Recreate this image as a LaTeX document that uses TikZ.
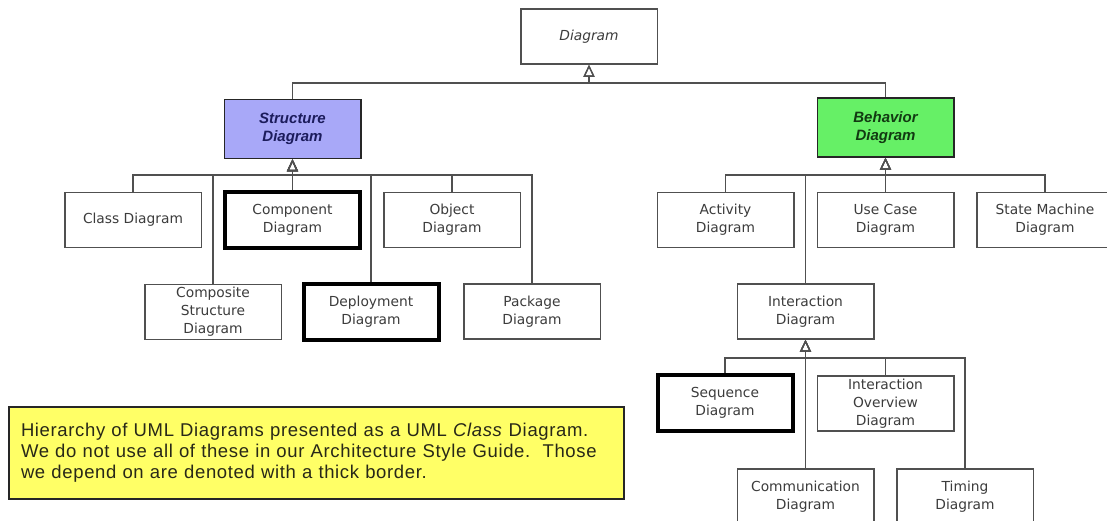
\documentclass[tikz,border=0pt]{standalone}
\usepackage{fontspec}
\setmainfont{DejaVu Sans}
\newfontfamily\notefont{Liberation Sans}
\newfontfamily\notewidefont[LetterSpace=3.5]{Liberation Sans}
\usetikzlibrary{arrows.meta}

\definecolor{linegray}{RGB}{80,80,80}
\definecolor{textgray}{RGB}{60,60,60}
\definecolor{structfill}{RGB}{168,168,248}
\definecolor{behavfill}{RGB}{102,240,102}
\definecolor{notefill}{RGB}{255,255,102}
\definecolor{structtext}{RGB}{28,28,92}
\definecolor{behavtext}{RGB}{18,58,18}
\definecolor{notetext}{RGB}{40,40,24}

\begin{document}
\begin{tikzpicture}[x=1pt,y=-1pt,
  box/.style={draw=linegray, line width=1.5pt, fill=white,
    minimum width=136.5pt, minimum height=55pt, inner sep=0pt,
    align=center, text=textgray, font=\fontsize{13.8}{18}\selectfont},
  keybox/.style={box, draw=black, line width=4pt,
    minimum width=135pt, minimum height=56pt},
  abstractbox/.style={box, draw=black!85, minimum height=59pt,
    font=\notefont\fontsize{15}{18}\selectfont\bfseries\itshape},
  gen/.style={draw=linegray, line width=1.5pt,
    -{Triangle[open, width=11pt, length=12pt, line width=1.3pt]}},
]
\useasboundingbox (0,0) rectangle (1107,520);

% root
\node[box, font=\itshape\fontsize{13.8}{18}\selectfont] (diag) at (589,36.5) {Diagram};

% second level
\node[abstractbox, fill=structfill, text=structtext] (struct) at (292.5,129) {Structure\\Diagram};
\node[abstractbox, fill=behavfill, text=behavtext] (behav) at (885.5,127.5) {Behavior\\Diagram};

% structure diagrams
\node[box] (class) at (133,220) {Class Diagram};
\node[keybox] (component) at (292.5,220) {Component\\Diagram};
\node[box] (object) at (452,220) {Object\\Diagram};
\node[box] (composite) at (213,312) {Composite\\Structure\\Diagram};
\node[keybox] (deploy) at (371,312) {Deployment\\Diagram};
\node[box] (package) at (532,311.5) {Package\\Diagram};

% behavior diagrams
\node[box] (activity) at (725.5,220) {Activity\\Diagram};
\node[box] (usecase) at (885.5,220) {Use Case\\Diagram};
\node[box] (statemachine) at (1045,220) {State Machine\\Diagram};
\node[box] (interaction) at (805.5,311.5) {Interaction\\Diagram};

% interaction diagrams
\node[keybox] (sequence) at (725,403) {Sequence\\Diagram};
\node[box] (overview) at (885.5,403.5) {Interaction\\Overview\\Diagram};
\node[box] (communication) at (805.5,496.5) {Communication\\Diagram};
\node[box] (timing) at (965,496.5) {Timing\\Diagram};

% bus points of the generalisation trees
\coordinate (dbus) at (589,83);
\coordinate (sbus) at (292.5,175);
\coordinate (bbus) at (885.5,175);
\coordinate (ibus) at (805.5,358);

% generalisations
\foreach \child in {struct,behav}
  \draw[gen] (\child.north) |- (dbus) -- (diag.south);
\foreach \child in {class,composite,component,deploy,object,package}
  \draw[gen] (\child.north) |- (sbus) -- (struct.south);
\foreach \child in {activity,interaction,usecase,statemachine}
  \draw[gen] (\child.north) |- (bbus) -- (behav.south);
\foreach \child in {sequence,communication,overview,timing}
  \draw[gen] (\child.north) |- (ibus) -- (interaction.south);

% explanatory note
\node[draw=black!85, line width=1.5pt, fill=notefill, text=notetext,
      minimum width=615pt, minimum height=92pt, inner xsep=12pt,
      text width=591pt, align=left,
      font=\notewidefont\fontsize{18.5}{21}\selectfont] (note) at (316.5,453)
  {Hierarchy of UML Diagrams presented as a UML \textit{Class} Diagram.\\
   We do not use all of these in our Architecture Style Guide.\ \ Those\\
   we depend on are denoted with a thick border.};
\end{tikzpicture}
\end{document}
